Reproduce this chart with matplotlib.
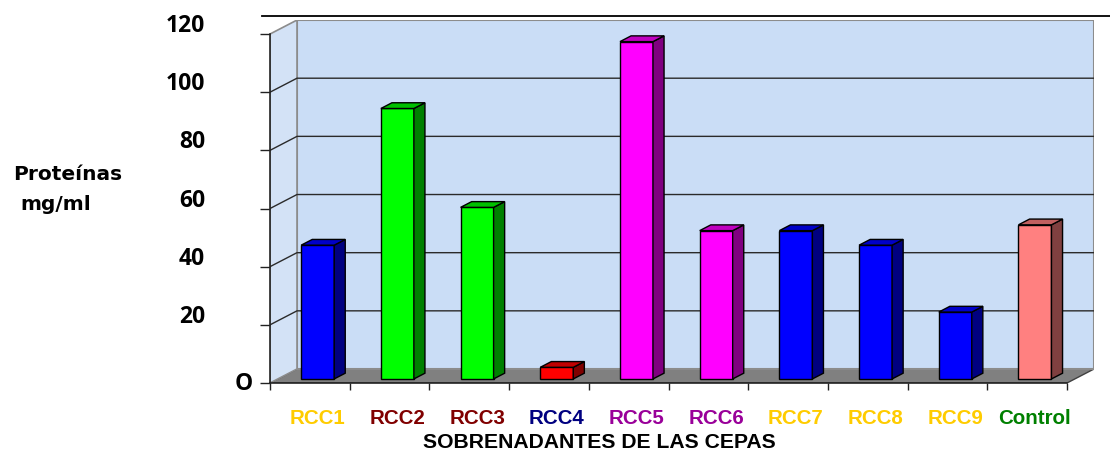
import matplotlib
matplotlib.use('Agg')
import matplotlib.pyplot as plt
from matplotlib.patches import Polygon, Rectangle
from matplotlib.lines import Line2D
import numpy as np

# ---------------- data ----------------
categories = ['RCC1', 'RCC2', 'RCC3', 'RCC4', 'RCC5', 'RCC6', 'RCC7', 'RCC8', 'RCC9', 'Control']
values = [46, 93, 59, 4, 116, 51, 51, 46, 23, 53]
front_colors = ['#0000FF', '#00FF00', '#00FF00', '#FF0000', '#FF00FF',
                '#FF00FF', '#0000FF', '#0000FF', '#0000FF', '#FF8080']
side_colors = ['#000080', '#008000', '#008000', '#800000', '#800080',
               '#800080', '#000080', '#000080', '#000080', '#804040']
top_colors = ['#0000C8', '#00C000', '#00C000', '#C00000', '#C000C0',
              '#C000C0', '#0000C8', '#0000C8', '#0000C8', '#C06060']
label_colors = ['#FFCC00', '#800000', '#800000', '#000080', '#990099',
                '#990099', '#FFCC00', '#FFCC00', '#FFCC00', '#008000']
yticks = [0, 20, 40, 60, 80, 100, 120]
ytick_labels = ['O', '20', '40', '60', '80', '100', '120']
ylabel_lines = ['Proteínas', 'mg/ml']
xlabel = 'SOBRENADANTES DE LAS CEPAS'

# ---------------- geometry (pixels) ----------------
W, H = 1110, 453
fig = plt.figure(figsize=(W / 100, H / 100), dpi=100)
x0_px, x1_px = 270, 1067      # front edge of floor
DXp, DYp = 27, 14             # depth offset of the 3D box
y0_px = 383                   # front zero line
ppu = 2.908                   # pixels per value unit
n = len(categories)
ymax = 120
cat_px = (x1_px - x0_px) / n
DX = DXp / cat_px
DY = DYp / ppu

ax = fig.add_axes([x0_px / W, (H - y0_px) / H,
                   (x1_px - x0_px + DXp) / W, (ymax * ppu + DYp) / H])
ax.set_xlim(-0.5, n - 0.5 + DX)
ax.set_ylim(0, ymax + DY)
ax.patch.set_visible(False)

wall_c = '#CADDF6'
side_wall_c = '#D3E2F6'
# floor
ax.add_patch(Polygon([(-0.5, 0), (n - 0.5, 0), (n - 0.5 + DX, DY), (-0.5 + DX, DY)],
                     closed=True, fc='#808080', ec='#404040', lw=1, zorder=1))
# back wall
ax.add_patch(Rectangle((-0.5 + DX, DY), n, ymax, fc=wall_c, ec='#8C8C8C', lw=1.5, zorder=1))
# left wall
ax.add_patch(Polygon([(-0.5, 0), (-0.5 + DX, DY), (-0.5 + DX, DY + ymax), (-0.5, ymax)],
                     closed=True, fc=side_wall_c, ec='#8C8C8C', lw=1.2, zorder=1))
# gridlines on walls
for v in yticks[1:-1]:
    ax.plot([-0.5, -0.5 + DX, n - 0.5 + DX], [v, v + DY, v + DY],
            color='#2A2A2A', lw=1, zorder=2, solid_capstyle='butt')

# bars
d0 = 0.29          # depth position of front face
bd = 0.41          # bar depth fraction
w = 33 / cat_px
xs = np.arange(n) + d0 * DX
ax.bar(xs, values, width=w, bottom=d0 * DY, color=front_colors,
       edgecolor='black', linewidth=1, zorder=3)
ddx, ddy = bd * DX, bd * DY
for i, v in enumerate(values):
    xl, xr = xs[i] - w / 2, xs[i] + w / 2
    yb, yt = d0 * DY, d0 * DY + v
    ax.add_patch(Polygon([(xr, yb), (xr + ddx, yb + ddy), (xr + ddx, yt + ddy), (xr, yt)],
                         closed=True, fc=side_colors[i], ec='black', lw=1, zorder=3))
    ax.add_patch(Polygon([(xl, yt), (xr, yt), (xr + ddx, yt + ddy), (xl + ddx, yt + ddy)],
                         closed=True, fc=top_colors[i], ec='black', lw=1, zorder=3))

# spines and ticks
ax.spines['top'].set_visible(False)
ax.spines['right'].set_visible(False)
ax.spines['left'].set_bounds(0, ymax)
ax.spines['bottom'].set_bounds(-0.5, n - 0.5)
for s in ('left', 'bottom'):
    ax.spines[s].set_color('#222222')
    ax.spines[s].set_linewidth(1.2)
    ax.spines[s].set_zorder(4)
ax.set_yticks(yticks)
ax.set_yticklabels([])
ax.tick_params(axis='y', length=7, width=1, color='#222222', direction='out')
ax.set_xticks([])
ax.set_xticks(np.arange(n + 1) - 0.5, minor=True)
ax.tick_params(axis='x', which='minor', length=5, width=1, color='#222222', direction='out')

# y tick labels
for v, lab in zip(yticks, ytick_labels):
    if v == 0:
        xr_px, yc = 253, -0.5
    else:
        xr_px, yc = 205, v + 8 / ppu
    ax.text(-0.5 + (xr_px - x0_px) / cat_px, yc, lab, ha='right', va='center',
            fontsize=16.5, fontweight='bold', family='Open Sans', clip_on=False)

# category labels
for i, lab in enumerate(categories):
    ax.text(xs[i], (y0_px - 419) / ppu, lab, ha='center', va='center',
            color=label_colors[i], fontsize=14.8, fontweight='bold',
            family='Liberation Sans', clip_on=False)

# x title
fig.text(599 / W, 1 - 443 / H, xlabel, ha='center', va='center',
         fontsize=15.2, fontweight='bold', family='Liberation Sans')

# y title
fig.text(13 / W, 1 - 174 / H, ylabel_lines[0], ha='left', va='center',
         fontsize=14.5, fontweight='bold', family='DejaVu Sans')
fig.text(20 / W, 1 - 204 / H, ylabel_lines[1], ha='left', va='center',
         fontsize=14.5, fontweight='bold', family='DejaVu Sans')

# top border line
fig.add_artist(Line2D([262 / W, 1.0], [1 - 15.5 / H, 1 - 15.5 / H],
                      transform=fig.transFigure, color='black', lw=1.3))

fig.savefig('out.png', dpi=100)
